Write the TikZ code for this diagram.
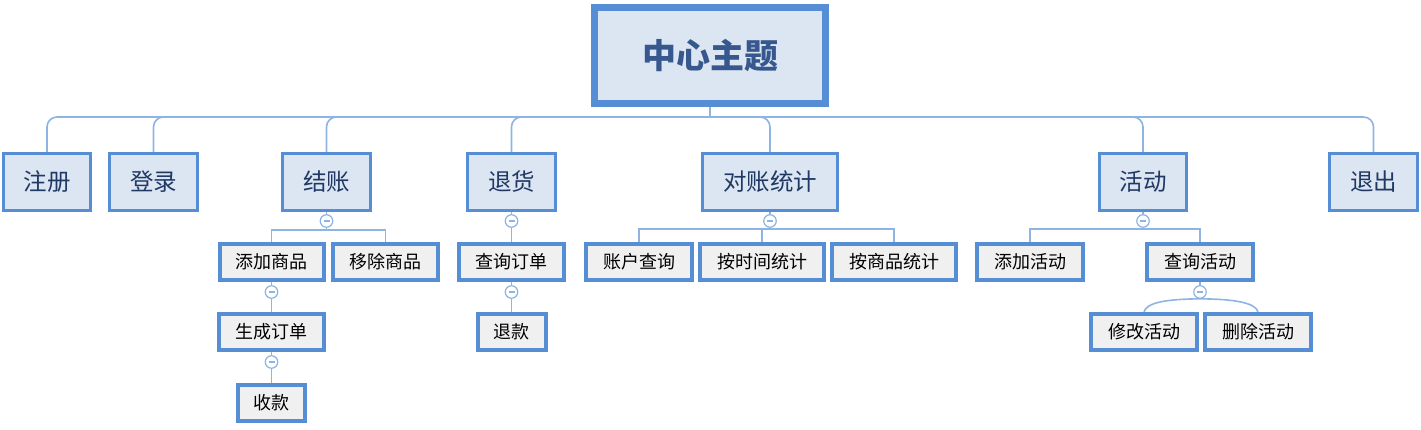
\documentclass[tikz,border=0pt]{standalone}
\usepackage{fontspec}
\setmainfont{Noto Sans CJK SC}
\usepackage{tikz}
\usetikzlibrary{shapes,backgrounds}

\definecolor{rim}{HTML}{558ED5}
\definecolor{topfill}{HTML}{DCE6F2}
\definecolor{subfill}{HTML}{F0F0F0}
\definecolor{wire}{HTML}{8DB4E2}
\definecolor{ink}{HTML}{1F3864}
\definecolor{rootink}{HTML}{36588E}

\begin{document}
\begin{tikzpicture}[x=1pt,y=-1pt,
  root/.style={draw=rim,line width=7pt,fill=topfill,text=rootink,inner sep=0pt,
    font=\fontsize{34}{38}\selectfont\bfseries,minimum width=231,minimum height=96},
  topic/.style={draw=rim,line width=3pt,fill=topfill,text=ink,inner sep=0pt,
    font=\fontsize{23.5}{27}\selectfont,minimum height=57},
  sub/.style={draw=rim,line width=4pt,fill=subfill,text=black,inner sep=0pt,
    font=\fontsize{18}{21}\selectfont,minimum height=36},
  fold/.style={circle,draw=wire,fill=white,line width=1.2pt,minimum size=12.5,inner sep=0pt,
    path picture={\draw[wire,line width=1.2pt]
      ([xshift=-3pt]path picture bounding box.center) -- ([xshift=3pt]path picture bounding box.center);}},
  wire/.style={draw=wire,line width=1.6pt}]

\useasboundingbox (0,0) rectangle (1421,430);

\node[root] (root) at (710,55.5) {中心主题};
\coordinate (hub) at (710,117);

% first level
\foreach \n/\x/\w/\t in {reg/47/87/注册, login/153.5/88/登录, pay/326.5/88/结账,
    ret/511.5/88/退货, stat/770/135/对账统计, act/1143/87/活动, quit/1373.5/88/退出}
  \node[topic,minimum width=\w] (\n) at (\x,182) {\t};

% 结账
\node[fold] (pay-f) at (326.5,221) {};
\coordinate (pay-j) at (326.5,230);
\node[sub,minimum width=104] (add) at (271.5,262) {添加商品};
\node[sub,minimum width=105] (rm) at (385.5,262) {移除商品};
\node[fold] (add-f) at (271.5,292) {};
\node[sub,minimum width=105] (gen) at (271.5,332) {生成订单};
\node[fold] (gen-f) at (271.5,362) {};
\node[sub,minimum width=67] (cash) at (271.5,402.5) {收款};

% 退货
\node[fold] (ret-f) at (511.5,221) {};
\node[sub,minimum width=105] (qorder) at (511.5,262) {查询订单};
\node[fold] (qorder-f) at (511.5,292) {};
\node[sub,minimum width=68] (refund) at (511.5,332) {退款};

% 对账统计
\node[fold] (stat-f) at (770,221) {};
\coordinate (stat-j) at (770,229);
\node[sub,minimum width=106] (acc) at (639,262) {账户查询};
\node[sub,minimum width=124] (bytime) at (762,262) {按时间统计};
\node[sub,minimum width=124] (bygoods) at (894,262) {按商品统计};

% 活动
\node[fold] (act-f) at (1143,221) {};
\coordinate (act-j) at (1143,229);
\node[sub,minimum width=106] (addact) at (1030,262) {添加活动};
\node[sub,minimum width=106] (qact) at (1200,262) {查询活动};
\node[fold] (qact-f) at (1200,292) {};
\node[sub,minimum width=106] (modact) at (1144,332) {修改活动};
\node[sub,minimum width=106] (delact) at (1258,332) {删除活动};

\begin{scope}[on background layer]
\draw[wire] (root) -- (hub);
\foreach \n in {reg,login,pay,ret,stat,act,quit}
  \draw[wire,rounded corners=10pt] (\n.north) |- (hub);

\draw[wire] (pay) -- (pay-f) -- (pay-j);
\draw[wire] (add.north) |- (pay-j) -| (rm.north);
\draw[wire] (add) -- (add-f) -- (gen);
\draw[wire] (gen) -- (gen-f) -- (cash);

\draw[wire] (ret) -- (ret-f) -- (qorder);
\draw[wire] (qorder) -- (qorder-f) -- (refund);

\draw[wire] (stat) -- (stat-f) -- (stat-j);
\draw[wire] (acc.north) |- (stat-j) -| (bygoods.north);
\draw[wire] (bytime.north) -- (bytime.north |- stat-j);

\draw[wire] (act) -- (act-f) -- (act-j);
\draw[wire] (addact.north) |- (act-j) -| (qact.north);
\draw[wire] (qact) -- (qact-f);
\draw[wire] (modact.north) .. controls (1146,303) and (1165,299) .. (qact-f.south)
  .. controls (1235,299) and (1256,303) .. (delact.north);
\end{scope}
\end{tikzpicture}
\end{document}
